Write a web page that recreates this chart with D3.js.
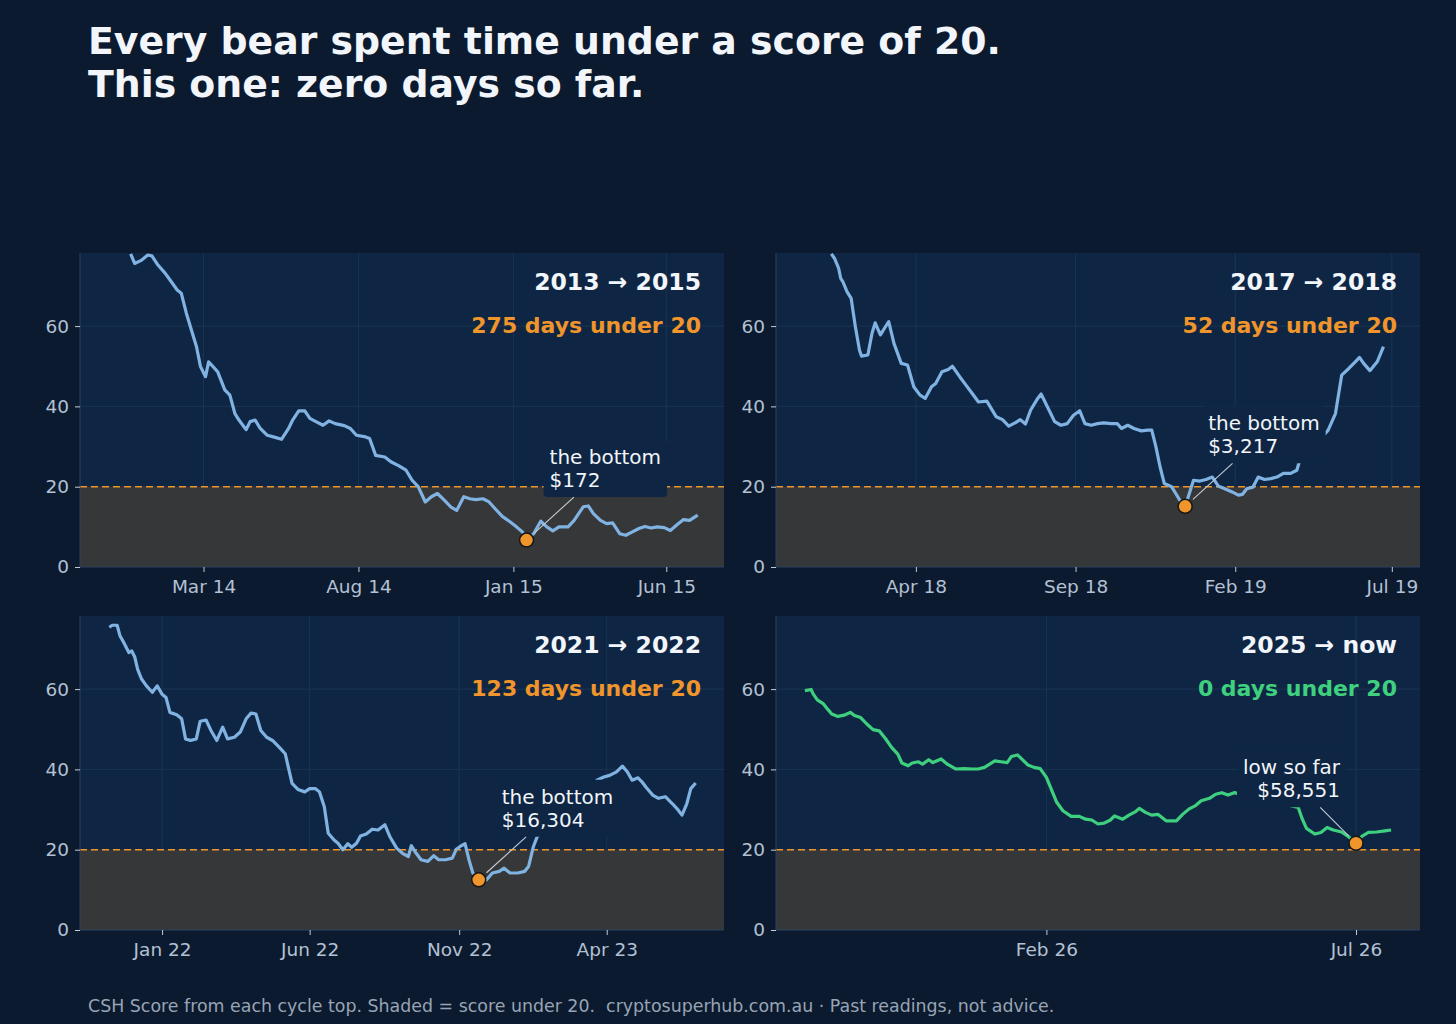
<!DOCTYPE html>
<html>
<head>
<meta charset="utf-8">
<script src="https://cdn.jsdelivr.net/npm/d3@7"></script>
<style>
  body { margin: 0; background: #0b1a2e; }
  text { font-family: "DejaVu Sans", sans-serif; }
</style>
</head>
<body>
<svg id="chart" width="1456" height="1024"></svg>
<script>
// CSH score from each cycle top.
// x values are days relative to each panel's origin date.
const days13 = [-378,-374,-368,-361,-357,-351,-344,-338,-332,-328,-323,-317,-313,-309,-304,-301,-298,-292,-285,-280,
  -275,-271,-264,-260,-255,-250,-243,-237,-229,-222,-218,-212,-206,-201,-195,-188,-182,-176,-167,-161,
  -155,-146,-142,-136,-127,-121,-113,-106,-100,-94,-87,-81,-75,-68,-62,-56,-49,-43,-37,-30,
  -24,-18,-11,-3,3,9,13,20,27,33,39,45,54,60,69,74,79,86,92,98,
  105,111,117,124,130,136,142,149,155,161,168,174,182];
const score13 = [78.0,75.6,76.3,77.7,77.5,75.2,73.2,71.1,69.0,68.2,63.2,58.2,54.9,49.9,47.4,51.1,50.3,48.6,44.1,42.8,
  38.2,36.6,34.2,36.2,36.6,34.5,32.8,32.4,31.8,34.5,36.6,38.9,38.9,37.0,36.2,35.3,36.4,35.7,35.2,34.5,
  32.8,32.4,32.0,27.8,27.4,26.2,25.2,24.1,21.6,20.0,16.2,17.5,18.3,16.6,15.0,14.1,17.5,17.0,16.8,17.0,
  16.2,14.5,12.6,11.2,10.0,8.7,6.7,8.3,11.4,10.0,9.0,10.0,10.0,11.6,15.0,15.2,13.3,11.6,10.8,11.0,
  8.3,7.9,8.7,9.6,10.1,9.7,10.0,9.8,9.1,10.4,11.8,11.6,12.9];

const days17 = [-387,-384,-380,-378,-376,-372,-368,-364,-360,-358,-352,-348,-345,-340,-335,-332,-327,-320,-314,-308,
  -302,-297,-291,-287,-281,-275,-271,-264,-258,-252,-246,-238,-229,-223,-217,-211,-206,-201,-196,-190,
  -186,-180,-173,-167,-161,-155,-149,-144,-138,-132,-126,-119,-113,-109,-103,-97,-90,-84,-80,-76,
  -72,-68,-61,-57,-53,-48,-44,-40,-34,-28,-22,-16,-10,-3,3,7,11,17,22,28,
  34,40,46,53,59,61,89,96,102,109,115,119,123,129,136,142];
const score17 = [78.0,76.9,74.4,71.9,71.1,68.6,66.9,59.9,54.0,52.5,52.8,58.2,60.8,57.8,59.9,61.1,55.7,50.7,50.3,44.9,
  42.8,42.0,44.9,45.7,48.6,49.2,50.0,47.4,45.3,43.2,41.1,41.3,37.4,36.7,35.1,35.9,36.7,35.6,39.1,41.7,
  43.1,39.9,36.2,35.3,35.7,37.8,38.9,35.7,35.3,35.7,35.9,35.7,35.7,34.5,35.3,34.5,33.9,34.1,34.1,29.9,
  24.9,20.8,20.0,18.3,16.6,15.1,18.3,21.6,21.4,21.8,22.4,20.1,19.5,18.7,17.9,18.1,19.5,19.9,22.4,21.8,
  22.0,22.4,23.3,23.3,24.1,25.9,34.1,38.2,47.8,49.5,51.1,52.2,50.7,48.9,51.1,54.9];

const days21 = [-358,-355,-350,-347,-343,-338,-335,-332,-329,-325,-320,-314,-309,-304,-300,-296,-289,-284,-280,-275,
  -269,-265,-259,-254,-248,-242,-237,-230,-224,-218,-213,-208,-203,-197,-191,-184,-178,-171,-165,-158,
  -153,-147,-143,-138,-134,-128,-124,-119,-114,-110,-105,-101,-95,-89,-83,-76,-71,-64,-58,-52,
  -49,-44,-39,-32,-26,-21,-14,-7,-3,1,6,10,14,20,28,34,41,46,52,60,
  67,71,76,80,141,148,154,161,167,172,177,183,187,191,198,204,211,218,224,228,
  233,237,242];
const score21 = [75.4,75.9,75.9,73.2,71.5,69.1,69.5,68.0,64.9,62.5,60.8,59.2,60.8,58.7,57.9,54.2,53.6,52.6,47.6,47.2,
  47.6,52.0,52.3,49.7,47.2,50.5,47.6,48.0,49.3,52.6,54.0,53.8,49.7,48.0,47.2,45.5,43.9,36.5,35.0,34.4,
  35.2,35.2,34.4,30.7,24.1,22.4,21.6,20.0,21.5,20.6,21.6,23.4,23.9,25.1,24.9,26.2,23.3,20.4,19.1,18.3,
  21.0,19.1,17.5,17.1,18.5,17.5,17.5,17.9,20.1,20.8,21.5,17.5,14.2,12.5,12.5,14.2,14.6,15.4,14.2,14.2,
  14.6,15.8,20.8,23.3,37.3,38.1,38.5,39.4,40.8,39.4,37.3,37.9,36.9,35.6,33.6,32.8,33.2,31.5,29.9,28.6,
  31.5,35.2,36.6];

const days25 = [-117,-114,-113,-111,-108,-106,-104,-101,-98,-95,-93,-90,-87,-84,-81,-78,-75,-72,-70,-67,
  -65,-62,-60,-57,-55,-51,-48,-44,-40,-36,-33,-30,-25,-22,-19,-17,-14,-12,-9,-6,
  -3,0,2,5,8,12,16,19,22,25,28,31,33,37,40,43,45,48,51,54,
  58,61,63,66,69,72,75,79,82,85,88,91,122,124,126,130,133,136,139,143,
  146,150,153,156,160,164,167];
const score25 = [59.6,59.9,58.8,57.3,56.3,55.0,53.8,53.2,53.5,54.2,53.4,52.9,51.3,49.9,49.6,47.7,45.5,43.8,41.6,40.9,
  41.6,41.9,41.3,42.4,41.7,42.6,41.3,40.1,40.2,40.1,40.1,40.5,42.1,41.9,41.7,43.2,43.6,42.6,41.1,40.5,
  40.2,38.0,35.5,31.8,29.7,28.3,28.3,27.6,27.4,26.4,26.6,27.4,28.4,27.6,28.6,29.4,30.3,29.3,28.6,28.8,
  27.2,27.2,27.2,28.8,30.1,30.9,32.2,32.8,33.8,34.2,33.6,34.2,30.5,27.6,25.3,23.9,24.3,25.5,24.9,24.4,
  23.4,21.6,23.4,24.3,24.4,24.7,24.9];

const cycleTitles = ['2013 → 2015', '2017 → 2018', '2021 → 2022', '2025 → now'];
const daysUnder = [275, 52, 123, 0];
const origins = ['2015-01-01', '2019-02-01', '2022-11-01', '2026-02-01'];
const xDomains = [['2013-10-30', '2015-07-28'], ['2017-11-18', '2019-07-28'],
                  ['2021-10-09', '2023-07-30'], ['2025-09-23', '2026-08-01']];
const xTicks = [['2014-03-01', '2014-08-01', '2015-01-01', '2015-06-01'],
                ['2018-04-01', '2018-09-01', '2019-02-01', '2019-07-01'],
                ['2022-01-01', '2022-06-01', '2022-11-01', '2023-04-01'],
                ['2026-02-01', '2026-07-01']];
const yTicks = [0, 20, 40, 60];
const threshold = 20;
const lowDay = [13, -48, 20, 150];
const lowScore = [6.7, 15.1, 12.5, 21.6];
const lowLabel = [['the bottom', '$172'], ['the bottom', '$3,217'], ['the bottom', '$16,304'], ['low so far', '$58,551']];

const seriesDays = [days13, days17, days21, days25];
const seriesScore = [score13, score17, score21, score25];

// styling
const BLUE = '#80b2e2', GREEN = '#3fd07f', ORANGE = '#ef952b';
const PLOT_BG = '#0e2644', FIG_BG = '#0b1a2e';
const panelW = 644, panelH = 314;
const colX = [80, 776], rowY = [253, 616];
const yMax = 78.2;

const parse = d3.utcParse('%Y-%m-%d');
const svg = d3.select('#chart');

svg.append('rect').attr('width', 1456).attr('height', 1024).attr('fill', FIG_BG);

const title = svg.append('text')
  .attr('x', 88)
  .attr('font-size', 37.8)
  .attr('font-weight', 'bold')
  .attr('fill', '#f2f5fa');
title.append('tspan').attr('x', 88).attr('y', 54).text('Every bear spent time under a score of 20.');
title.append('tspan').attr('x', 88).attr('y', 97).text('This one: zero days so far.');

svg.append('text')
  .attr('x', 88)
  .attr('y', 1012)
  .attr('font-size', 17.4)
  .attr('fill', '#98a4b5')
  .style('white-space', 'pre')
  .text('CSH Score from each cycle top. Shaded = score under 20.  cryptosuperhub.com.au · Past readings, not advice.');

for (let i = 0; i < 4; i++) drawPanel(i);

function drawPanel(i) {
  const origin = parse(origins[i]);
  const toDate = d => d3.utcDay.offset(origin, d);
  const data = seriesDays[i].map((d, k) => ({ date: toDate(d), score: seriesScore[i][k] }));
  const isNow = i === 3;
  const lineColor = isNow ? GREEN : BLUE;

  const g = svg.append('g')
    .attr('transform', `translate(${colX[i % 2]},${rowY[Math.floor(i / 2)]})`);

  const x = d3.scaleUtc().domain(xDomains[i].map(parse)).range([0, panelW]);
  const y = d3.scaleLinear().domain([0, yMax]).range([panelH, 0]);

  g.append('rect')
    .attr('width', panelW)
    .attr('height', panelH)
    .attr('fill', PLOT_BG);

  // faint grid
  g.selectAll('.vgrid')
    .data(xTicks[i].map(parse))
    .join('line')
    .attr('x1', d => x(d)).attr('x2', d => x(d))
    .attr('y1', 0).attr('y2', panelH)
    .attr('stroke', '#1a3453')
    .attr('stroke-width', 1);
  g.selectAll('.hgrid')
    .data(yTicks.slice(1))
    .join('line')
    .attr('x1', 0).attr('x2', panelW)
    .attr('y1', d => y(d)).attr('y2', d => y(d))
    .attr('stroke', '#1a3453')
    .attr('stroke-width', 1);

  // shaded zone under 20
  g.append('rect')
    .attr('x', 0)
    .attr('y', y(threshold))
    .attr('width', panelW)
    .attr('height', y(0) - y(threshold))
    .attr('fill', '#363739');

  g.append('line')
    .attr('x1', 0).attr('x2', panelW)
    .attr('y1', y(threshold)).attr('y2', y(threshold))
    .attr('stroke', ORANGE)
    .attr('stroke-width', 1.6)
    .attr('stroke-dasharray', '7,4');

  // spines
  g.append('line')
    .attr('x1', 0).attr('x2', 0).attr('y1', 0).attr('y2', panelH)
    .attr('stroke', '#2c4260');
  g.append('line')
    .attr('x1', 0).attr('x2', panelW).attr('y1', panelH).attr('y2', panelH)
    .attr('stroke', '#2c4260');

  g.append('clipPath')
    .attr('id', 'clip' + i)
    .append('rect')
    .attr('width', panelW)
    .attr('height', panelH);

  const line = d3.line()
    .x(d => x(d.date))
    .y(d => y(d.score));

  g.append('path')
    .datum(data)
    .attr('clip-path', `url(#clip${i})`)
    .attr('d', line)
    .attr('fill', 'none')
    .attr('stroke', lineColor)
    .attr('stroke-width', 3.2)
    .attr('stroke-linejoin', 'round');

  // annotation for the low
  const cx = x(toDate(lowDay[i])), cy = y(lowScore[i]);
  const anchor = isNow ? 'end' : 'start';
  const dx = isNow ? -16 : 23;
  const dy = isNow ? -69 : -76;

  const ag = g.append('g');
  const box = ag.append('rect');
  const arrow = ag.append('line');
  const label = ag.append('text')
    .attr('font-size', 20)
    .attr('fill', '#f2f5fa')
    .attr('text-anchor', anchor);
  lowLabel[i].forEach((s, k) => {
    label.append('tspan')
      .attr('x', cx + dx)
      .attr('y', cy + dy + k * 23)
      .text(s);
  });
  const bb = label.node().getBBox();
  const pad = 6;
  box.attr('x', bb.x - pad)
    .attr('y', bb.y - pad + 1)
    .attr('width', bb.width + pad * 2)
    .attr('height', bb.height + pad * 2 - 2)
    .attr('rx', 4)
    .attr('fill', PLOT_BG);

  const bx = bb.x + bb.width / 2, by = bb.y + bb.height / 2;
  const hw = bb.width / 2 + pad, hh = bb.height / 2 + pad - 1;
  const vx = bx - cx, vy = by - cy;
  const len = Math.hypot(vx, vy);
  const ux = vx / len, uy = vy / len;
  const tEdge = Math.min(hw / Math.abs(ux), hh / Math.abs(uy));
  arrow.attr('x1', cx + ux * 10.5).attr('y1', cy + uy * 10.5)
    .attr('x2', bx - ux * tEdge).attr('y2', by - uy * tEdge)
    .attr('stroke', '#c4ccd6')
    .attr('stroke-width', 1.1);

  g.append('circle')
    .attr('cx', cx)
    .attr('cy', cy)
    .attr('r', 7)
    .attr('fill', ORANGE)
    .attr('stroke', '#161616')
    .attr('stroke-width', 1.5);

  // axes
  const yAxis = g.append('g')
    .call(d3.axisLeft(y).tickValues(yTicks).tickSize(5).tickPadding(6));
  const xAxis = g.append('g')
    .attr('transform', `translate(0,${panelH})`)
    .call(d3.axisBottom(x).tickValues(xTicks[i].map(parse))
      .tickFormat(d3.utcFormat('%b %y')).tickSize(5).tickPadding(8));
  [yAxis, xAxis].forEach(ax => {
    ax.select('.domain').remove();
    ax.selectAll('.tick line').attr('stroke', '#c3ccd8');
    ax.selectAll('.tick text')
      .attr('fill', '#b3c1d4')
      .attr('font-size', 18.5)
      .attr('font-family', '"DejaVu Sans", sans-serif');
  });

  // panel headings
  g.append('text')
    .attr('x', panelW - 23)
    .attr('y', 37)
    .attr('text-anchor', 'end')
    .attr('font-size', 23.5)
    .attr('font-weight', 'bold')
    .attr('fill', '#f2f5fa')
    .text(cycleTitles[i]);
  g.append('text')
    .attr('x', panelW - 23)
    .attr('y', 80)
    .attr('text-anchor', 'end')
    .attr('font-size', 22)
    .attr('font-weight', 'bold')
    .attr('fill', isNow ? GREEN : ORANGE)
    .text(daysUnder[i] + ' days under 20');
}
</script>
</body>
</html>
